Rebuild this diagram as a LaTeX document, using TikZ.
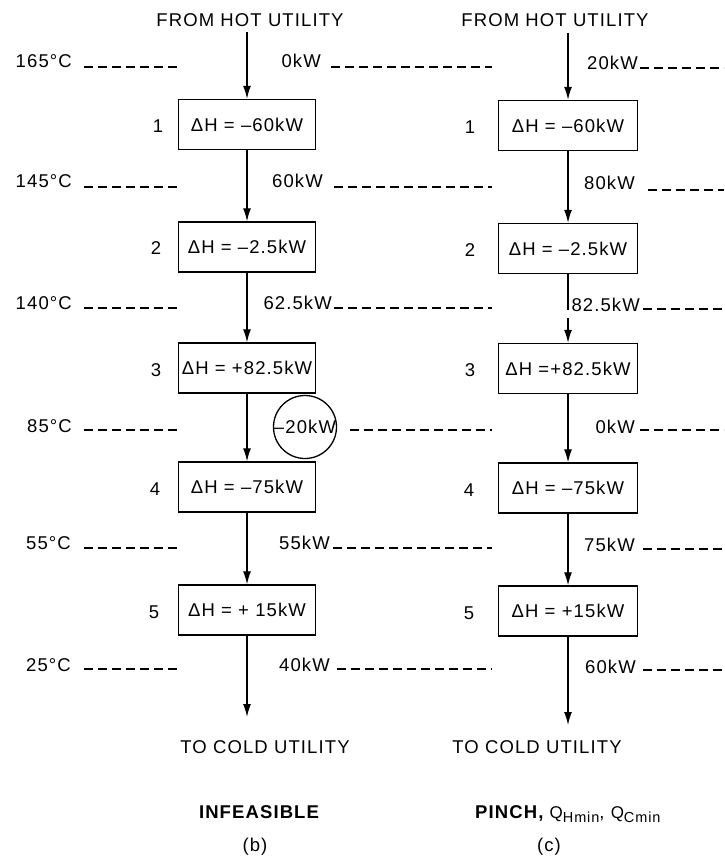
\documentclass[tikz,border=0pt]{standalone}
\usepackage{fontspec}
\setmainfont{Liberation Sans}[LetterSpace=6]
\usetikzlibrary{arrows.meta}
\newcommand{\qsub}[1]{{\fontsize{17}{18}\selectfont Q}\raisebox{-4pt}{\fontsize{14.5}{16}\selectfont #1}}
\begin{document}
\begin{tikzpicture}[x=1pt,y=-1pt,
  every node/.style={font=\fontsize{18.5}{20}\selectfont, inner sep=0pt},
  hbox/.style={draw, line width=1.4pt, minimum height=50pt},
  lbox/.style={hbox, minimum width=137pt},
  rbox/.style={hbox, minimum width=139pt},
  flow/.style={line width=1.3pt, -{Latex[length=13pt,width=8pt]}},
  plainline/.style={line width=1.3pt},
  lvl/.style={line width=1.4pt, dash pattern=on 9pt off 5pt},
  lbl/.style={anchor=base east},
]
\useasboundingbox (0,0) rectangle (724,858);

% headings
\node[anchor=base] (hL) at (250,27) {FROM HOT UTILITY};
\node[anchor=base] (hR) at (555,27) {FROM HOT UTILITY};
\node[anchor=base] (cL) at (265,753) {TO COLD UTILITY};
\node[anchor=base] (cR) at (537,753) {TO COLD UTILITY};
\node[anchor=base, font=\fontsize{18.5}{20}\selectfont\bfseries] (inf) at (259,818) {INFEASIBLE};
\node[anchor=base] (b) at (255,851) {(b)};
\node[anchor=base west] (pinch) at (475,818) {{\bfseries PINCH,} \qsub{Hmin}, \qsub{Cmin}};
\node[anchor=base] (c) at (549,851) {(c)};

% left column boxes
\node[lbox] (L1) at (247,124.5) {ΔH = –60kW};
\node[lbox] (L2) at (247,247) {ΔH = –2.5kW};
\node[lbox] (L3) at (247,368) {ΔH = +82.5kW};
\node[lbox] (L4) at (247,487) {ΔH = –75kW};
\node[lbox] (L5) at (247,610) {ΔH = + 15kW};
\node (nL1) at (158,126) {1};
\node (nL2) at (156,248) {2};
\node (nL3) at (156,370) {3};
\node (nL4) at (155,489) {4};
\node (nL5) at (154,612) {5};

% right column boxes
\node[rbox] (R1) at (568,125.5) {ΔH = –60kW};
\node[rbox] (R2) at (568,248.5) {ΔH = –2.5kW};
\node[rbox] (R3) at (568,368.5) {ΔH =+82.5kW};
\node[rbox] (R4) at (568,488) {ΔH = –75kW};
\node[rbox] (R5) at (568,611) {ΔH = +15kW};
\node (nR1) at (470,127) {1};
\node (nR2) at (470,250) {2};
\node (nR3) at (470,370) {3};
\node (nR4) at (469,490) {4};
\node (nR5) at (469,613) {5};

% left column flows
\coordinate (Ltop) at (247,32);
\coordinate (Lbot) at (247,717);
\draw[flow] (Ltop) -- (L1);
\draw[flow] (L1) -- (L2);
\draw[flow] (L2) -- (L3);
\draw[flow] (L3) -- (L4);
\draw[flow] (L4) -- (L5);
\draw[flow] (L5) -- (Lbot);

% right column flows
\coordinate (Rtop) at (568,33);
\coordinate (Rbot) at (568,725);
\coordinate (Rg1) at (568,310);
\coordinate (Rg2) at (568,318);
\draw[flow] (Rtop) -- (R1);
\draw[flow] (R1) -- (R2);
\draw[plainline] (R2) -- (Rg1);
\draw[flow] (Rg2) -- (R3);
\draw[flow] (R3) -- (R4);
\draw[flow] (R4) -- (R5);
\draw[flow] (R5) -- (Rbot);

% temperatures
\node[lbl] (t0) at (72,68) {165°C};
\node[lbl] (t1) at (72,188) {145°C};
\node[lbl] (t2) at (72,309) {140°C};
\node[lbl] (t3) at (72,432) {85°C};
\node[lbl] (t4) at (71,549) {55°C};
\node[lbl] (t5) at (71,671) {25°C};
\foreach \y in {67,187,308,430,548,669}
  \draw[lvl] (84,\y) -- (177,\y);

% middle heat flows (b)
\node[lbl] (m0) at (321,68) {0kW};
\node[lbl] (m1) at (323,188) {60kW};
\node[lbl] (m2) at (332,309) {62.5kW};
\node[circle, draw, line width=1.3pt, minimum size=63pt] (circ) at (305,427) {};
\node (m3) at (circ) {–20kW};
\node[lbl] (m4) at (330,549) {55kW};
\node[lbl] (m5) at (330,671) {40kW};
\draw[lvl] (331,67) -- (492,67);
\draw[lvl] (334,187) -- (492,187);
\draw[lvl] (334,308) -- (492,308);
\draw[lvl] (350,430) -- (492,430);
\draw[lvl] (333,548) -- (492,548);
\draw[lvl] (337,669) -- (492,669);

% right heat flows (c)
\node[lbl] (r0) at (638,70) {20kW};
\node[lbl] (r1) at (635,190) {80kW};
\node[lbl] (r2) at (640,311) {82.5kW};
\node[lbl] (r3) at (635,433) {0kW};
\node[lbl] (r4) at (635,551) {75kW};
\node[lbl] (r5) at (636,673) {60kW};
\draw[lvl] (640,68) -- (724,68);
\draw[lvl] (648,190) -- (724,190);
\draw[lvl] (643,309) -- (724,309);
\draw[lvl] (640,430) -- (724,430);
\draw[lvl] (643,549) -- (724,549);
\draw[lvl] (643,670) -- (724,670);
\end{tikzpicture}
\end{document}
